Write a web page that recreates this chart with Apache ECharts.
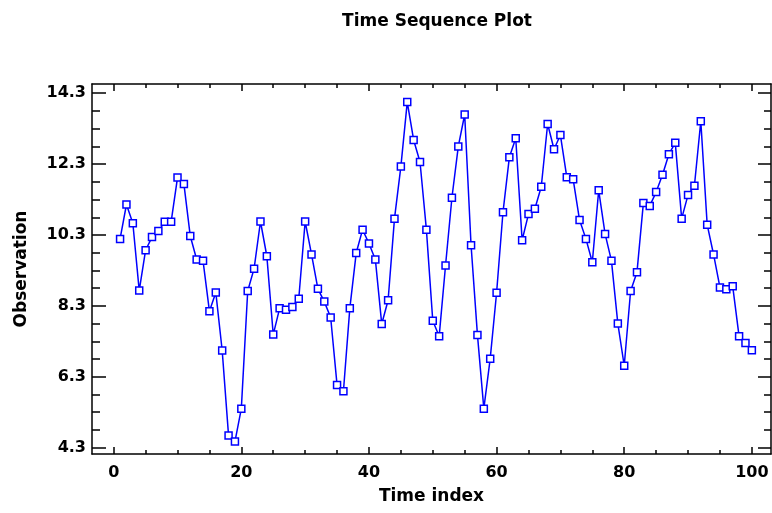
<!DOCTYPE html>
<html>
<head>
<meta charset="utf-8">
<script src="https://cdn.jsdelivr.net/npm/echarts@6/dist/echarts.min.js"></script>
<style>
html,body{margin:0;padding:0;background:#fff;}
#c{width:772px;height:513px;}
</style>
</head>
<body>
<div id="c"></div>
<script>
const timeIndex = [];
for (let i = 1; i <= 100; i++) timeIndex.push(i);
const observations = [
  10.19, 11.16, 10.63, 8.73, 9.87, 10.24, 10.41, 10.67, 10.67, 11.92,
  11.74, 10.27, 9.61, 9.57, 8.15, 8.68, 7.04, 4.64, 4.47, 5.40,
  8.72, 9.35, 10.68, 9.70, 7.49, 8.23, 8.19, 8.27, 8.50, 10.68,
  9.75, 8.78, 8.42, 7.97, 6.07, 5.89, 8.23, 9.79, 10.45, 10.06,
  9.61, 7.79, 8.46, 10.76, 12.23, 14.05, 12.98, 12.36, 10.45, 7.88,
  7.44, 9.44, 11.35, 12.80, 13.70, 10.01, 7.48, 5.40, 6.81, 8.67,
  10.94, 12.49, 13.03, 10.15, 10.89, 11.04, 11.66, 13.43, 12.72, 13.12,
  11.93, 11.87, 10.72, 10.19, 9.53, 11.56, 10.33, 9.57, 7.80, 6.61,
  8.72, 9.25, 11.20, 11.12, 11.51, 12.00, 12.58, 12.90, 10.76, 11.43,
  11.69, 13.51, 10.59, 9.75, 8.82, 8.77, 8.85, 7.44, 7.25, 7.05
];
const xMajorTicks = [0, 20, 40, 60, 80, 100];
const xMinorTicks = [5, 10, 15, 25, 30, 35, 45, 50, 55, 65, 70, 75, 85, 90, 95];
const yMajorTicks = [4.3, 6.3, 8.3, 10.3, 12.3, 14.3];
const yMinorTicks = [4.8, 5.3, 5.8, 6.8, 7.3, 7.8, 8.8, 9.3, 9.8, 10.8, 11.3, 11.8, 12.8, 13.3, 13.8];

const FONT = 'DejaVu Sans';
const X_MIN = -3.4, X_MAX = 103, Y_MIN = 4.12, Y_MAX = 14.56;
const lineCol = '#000';

function xAx(pos, ticks, len, labels, lineShow, name) {
  return {
    type: 'value', position: pos, min: X_MIN, max: X_MAX,
    name: name || '', nameLocation: 'middle', nameGap: 34,
    nameTextStyle: {fontFamily: FONT, fontWeight: 'bold', fontSize: 17, color: '#000'},
    axisLine: {show: lineShow, onZero: false, lineStyle: {color: lineCol, width: 1.5}},
    axisTick: {show: true, inside: true, length: len, customValues: ticks, lineStyle: {color: lineCol, width: 1.5}},
    axisLabel: labels ? {show: true, customValues: ticks, margin: 11, fontFamily: FONT, fontWeight: 'bold', fontSize: 16, color: '#000'} : {show: false},
    splitLine: {show: false}
  };
}
function yAx(pos, ticks, len, labels, lineShow, name) {
  return {
    type: 'value', position: pos, min: Y_MIN, max: Y_MAX,
    name: name || '', nameLocation: 'middle', nameGap: 62, nameRotate: 90,
    nameTextStyle: {fontFamily: FONT, fontWeight: 'bold', fontSize: 17, color: '#000'},
    axisLine: {show: lineShow, onZero: false, lineStyle: {color: lineCol, width: 1.5}},
    axisTick: {show: true, inside: true, length: len, customValues: ticks, lineStyle: {color: lineCol, width: 1.5}},
    axisLabel: labels ? {show: true, customValues: ticks, margin: 6, fontFamily: FONT, fontWeight: 'bold', fontSize: 16, color: '#000', formatter: v => v.toFixed(1)} : {show: false},
    splitLine: {show: false}
  };
}

const chart = echarts.init(document.getElementById('c'), null, {renderer: 'canvas'});
chart.setOption({
  animation: false,
  backgroundColor: '#fff',
  title: {
    text: 'Time Sequence Plot', left: 432, top: 8, textAlign: 'center',
    textStyle: {fontFamily: FONT, fontWeight: 'bold', fontSize: 17, color: '#000'}
  },
  grid: {left: 92, top: 84, right: 1, bottom: 59, containLabel: false},
  xAxis: [
    xAx('bottom', xMajorTicks, 7, true, true, 'Time index'),
    xAx('bottom', xMinorTicks, 4, false, false),
    xAx('top', xMajorTicks, 7, false, true),
    xAx('top', xMinorTicks, 4, false, false)
  ],
  yAxis: [
    yAx('left', yMajorTicks, 14, true, true, 'Observation'),
    yAx('left', yMinorTicks, 8, false, false),
    yAx('right', yMajorTicks, 13, false, true),
    yAx('right', yMinorTicks, 7, false, false)
  ],
  series: [{
    type: 'line',
    xAxisIndex: 0, yAxisIndex: 0,
    data: timeIndex.map((t, k) => [t, observations[k]]),
    color: '#0000ff',
    lineStyle: {color: '#0000ff', width: 1.5},
    symbol: 'rect', symbolSize: 7,
    itemStyle: {color: '#ffffff', borderColor: '#0000ff', borderWidth: 1.5},
    showSymbol: true
  }]
});
</script>
</body>
</html>
